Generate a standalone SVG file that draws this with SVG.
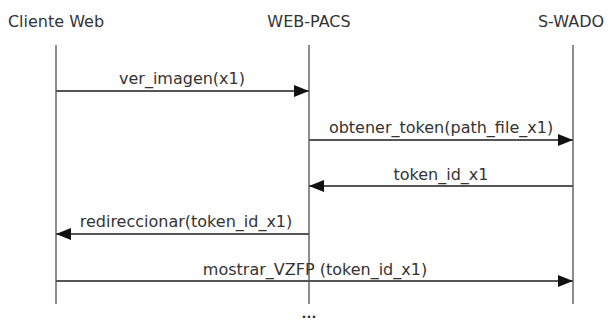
<svg xmlns="http://www.w3.org/2000/svg" width="608" height="322" viewBox="0 0 608 322">
<style>
text{font-family:"DejaVu Sans",sans-serif;font-size:16px;fill:#333;text-anchor:middle}
.life{stroke:#666;stroke-width:1.5;fill:none}
.msg{stroke:#555;stroke-width:2;fill:none}
</style>
<defs>
<marker id="ah" markerUnits="userSpaceOnUse" markerWidth="16" markerHeight="12" refX="15" refY="6" orient="auto">
<path d="M0,0 L15,6 L0,12 Z" fill="#111"/>
</marker>
</defs>
<rect width="608" height="322" fill="#fff"/>
<g id="cliente-web">
<text x="56" y="27">Cliente Web</text>
<line class="life" x1="56" y1="45" x2="56" y2="304"/>
</g>
<g id="web-pacs">
<text x="309" y="27">WEB-PACS</text>
<line class="life" x1="309" y1="45" x2="309" y2="304"/>
</g>
<g id="s-wado">
<text x="571" y="27">S-WADO</text>
<line class="life" x1="573" y1="45" x2="573" y2="304"/>
</g>
<g id="connectors">
<line class="msg" x1="56" y1="91" x2="309" y2="91" marker-end="url(#ah)"/>
<text x="182" y="84">ver_imagen(x1)</text>
<line class="msg" x1="309" y1="140" x2="573" y2="140" marker-end="url(#ah)"/>
<text x="441" y="133">obtener_token(path_file_x1)</text>
<line class="msg" x1="573" y1="186" x2="309" y2="186" marker-end="url(#ah)"/>
<text x="441" y="180">token_id_x1</text>
<line class="msg" x1="309" y1="234" x2="56" y2="234" marker-end="url(#ah)"/>
<text x="186" y="227">redireccionar(token_id_x1)</text>
<line class="msg" x1="56" y1="281" x2="573" y2="281" marker-end="url(#ah)"/>
<text x="315" y="275">mostrar_VZFP (token_id_x1)</text>
</g>
<text x="309" y="318" style="font-weight:bold;font-size:13px">...</text>
</svg>
